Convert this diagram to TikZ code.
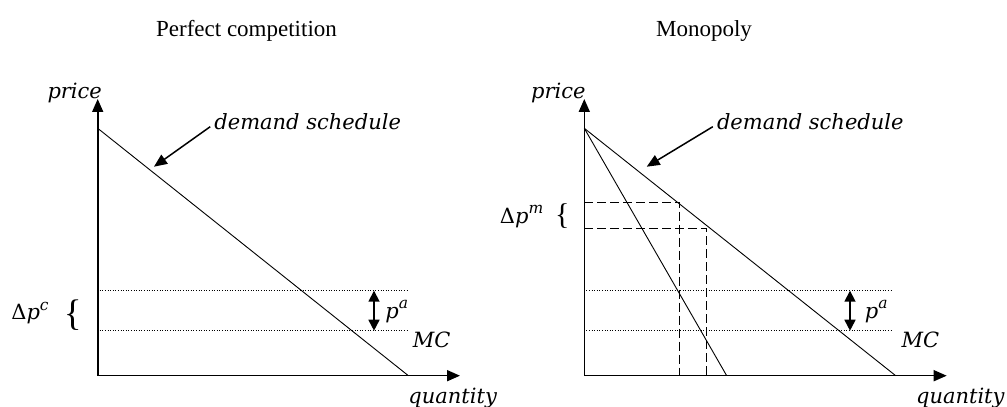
\documentclass[tikz,border=0pt]{standalone}
\usepackage{fontspec}
\setmainfont{Liberation Serif}
\newfontfamily\labelfont{DejaVu Serif}
\usetikzlibrary{arrows.meta}

\newcommand\upidx[1]{\raisebox{0.45em}{\fontsize{15.5}{15.5}\selectfont #1}}

\begin{document}
\begin{tikzpicture}[x=1pt,y=1pt,
  axis/.style={line width=1.6pt,-{Triangle[length=13pt,width=11pt]}},
  curve/.style={line width=0.9pt},
  mcline/.style={line width=0.8pt,dash pattern=on 1pt off 1.6pt},
  guide/.style={line width=1pt,dash pattern=on 9pt off 4pt},
  gap/.style={line width=1.7pt,{Triangle[length=11pt,width=11pt]}-{Triangle[length=11pt,width=11pt]}},
  pointer/.style={line width=1.5pt,-{Triangle[length=13pt,width=11pt]}},
  lab/.style={inner sep=0pt,font=\labelfont\itshape\fontsize{21}{25}\selectfont},
  title/.style={inner sep=0pt,font=\fontsize{23}{27}\selectfont},
  bracket/.style={inner sep=0pt,font=\fontsize{37}{37}\selectfont}]
\useasboundingbox (0,0) rectangle (1007,407);

% titles
\node[title] (ctitle) at (246.5,376) {Perfect competition};
\node[title] (mtitle) at (704,376) {Monopoly};

% perfect competition
\begin{scope}[shift={(97.7,31.3)}]
  \coordinate (cO) at (0,0);
  \coordinate (cY) at (0,276.7);
  \coordinate (cX) at (362.3,0);
  \coordinate (cD1) at (0,247.4);
  \coordinate (cD2) at (310.7,0);
  \coordinate (cH1) at (2,85);   \coordinate (cH2) at (309.3,85);
  \coordinate (cL1) at (2,45);   \coordinate (cL2) at (309.3,45);
  \coordinate (cA1) at (276.3,85); \coordinate (cA2) at (276.3,45);
  \coordinate (ctip) at (56.3,209);
  \draw[axis] (cO) -- (cY);
  \draw[axis] (cO) -- (cX);
  \draw[curve] (cD1) -- (cD2);
  \draw[mcline] (cH1) -- (cH2);
  \draw[mcline] (cL1) -- (cL2);
  \draw[gap] (cA1) -- (cA2);
  \node[lab] (cprice) at (-23,283) {price};
  \node[lab] (cqty) at (355,-22) {quantity};
  \node[lab] (cdem) at (210,254) {demand schedule};
  \draw[pointer] ([shift={(-4pt,-5pt)}]cdem.west) -- (ctip);
  \node[lab] (cpa) at (299,64) {p\upidx{a}};
  \node[lab] (cmc) at (334,35.7) {MC};
  \node[lab] (cdp) at (-67.7,62.7) {\textup{Δ}p\upidx{c}};
  \node[bracket] (cbr) at (-25,61) {\{};
\end{scope}

% monopoly
\begin{scope}[shift={(584.3,31.3)}]
  \coordinate (mO) at (0,0);
  \coordinate (mY) at (0,276.7);
  \coordinate (mX) at (362.4,0);
  \coordinate (mD1) at (0,247.4);
  \coordinate (mD2) at (311.4,0);
  \coordinate (mR2) at (142.4,0);
  \coordinate (mH1) at (2,85);   \coordinate (mH2) at (308.7,85);
  \coordinate (mL1) at (2,45);   \coordinate (mL2) at (308.7,45);
  \coordinate (mA1) at (265.7,85); \coordinate (mA2) at (265.7,45);
  \coordinate (mG1) at (0,173);  \coordinate (mK1) at (95,173);  \coordinate (mB1) at (95,0);
  \coordinate (mG2) at (0,147);  \coordinate (mK2) at (122.4,147); \coordinate (mB2) at (122.4,0);
  \coordinate (mtip) at (62.4,209);
  \draw[axis] (mO) -- (mY);
  \draw[axis] (mO) -- (mX);
  \draw[curve] (mD1) -- (mD2);
  \draw[curve] (mD1) -- (mR2);
  \draw[mcline] (mH1) -- (mH2);
  \draw[mcline] (mL1) -- (mL2);
  \draw[guide] (mG1) -- (mK1) -- (mB1);
  \draw[guide] (mG2) -- (mK2) -- (mB2);
  \draw[gap] (mA1) -- (mA2);
  \node[lab] (mprice) at (-26,283) {price};
  \node[lab] (mqty) at (376,-22) {quantity};
  \node[lab] (mdem) at (226,254) {demand schedule};
  \draw[pointer] ([shift={(-4pt,-5pt)}]mdem.west) -- (mtip);
  \node[lab] (mpa) at (292,64) {p\upidx{a}};
  \node[lab] (mmc) at (336,35.7) {MC};
  \node[lab] (mdp) at (-62.7,159) {\textup{Δ}p\upidx{m}};
  \node[bracket,font=\fontsize{30}{30}\selectfont] (mbr) at (-22,160) {\{};
\end{scope}
\end{tikzpicture}
\end{document}
